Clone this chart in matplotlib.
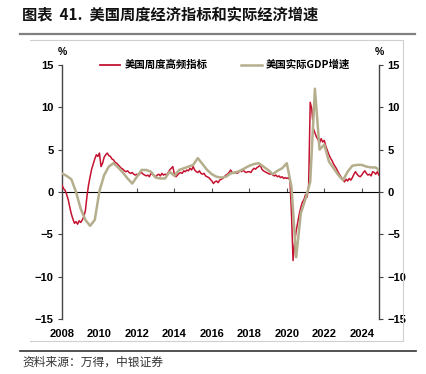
import matplotlib
matplotlib.use('Agg')
import matplotlib.pyplot as plt
from matplotlib.lines import Line2D
import numpy as np

# 美国周度经济指数（按月读取），起点2008年1月
wei = [
    0.8, 0.4, 0.2, -0.3, -0.9, -1.8, -2.6, -3.2, -3.7, -3.5, -3.8, -3.4,   # 2008
    -3.6, -3.3, -2.9, -2.2, -0.5, 0.8, 1.8, 2.7, 3.3, 3.9, 4.4, 4.2,       # 2009
    4.6, 3.0, 3.4, 4.1, 4.4, 4.6, 4.3, 4.2, 3.9, 3.8, 3.5, 3.4,            # 2010
    3.2, 3.0, 2.8, 2.7, 2.5, 2.4, 2.5, 2.3, 2.2, 2.3, 2.1, 2.0,            # 2011
    2.1, 2.0, 2.2, 2.3, 2.1, 2.0, 1.9, 2.0, 1.8, 2.2, 2.1, 1.9,            # 2012
    1.8, 2.0, 2.1, 1.9, 2.2, 2.0, 2.1, 2.0, 2.3, 2.6, 2.8, 3.0,            # 2013
    2.1, 1.8, 2.0, 2.2, 2.3, 2.2, 2.5, 2.4, 2.6, 2.5, 2.8, 2.6,            # 2014
    3.0, 2.6, 2.4, 2.3, 2.5, 2.2, 2.1, 2.2, 1.9, 1.8, 1.7, 1.5,            # 2015
    1.3, 1.0, 1.2, 1.3, 1.1, 1.4, 1.5, 1.6, 1.8, 2.0, 2.1, 2.3,            # 2016
    2.6, 2.3, 2.2, 2.4, 2.2, 2.3, 2.5, 2.4, 2.6, 2.4, 2.3, 2.4,            # 2017
    2.4, 2.3, 2.6, 2.8, 2.7, 2.9, 3.0, 3.2, 2.7, 2.5, 2.4, 2.3,            # 2018
    2.2, 2.1, 2.2, 2.0, 1.9, 2.0, 1.8, 1.9, 1.7, 1.8, 1.6, 1.7,            # 2019
    1.6, 1.7, 1.4, -2.5, -8.1, -6.0, -4.6, -3.6, -2.6, -1.8, -1.2, -0.9,   # 2020
    -0.3, -0.6, 0.8, 10.6, 9.8, 7.5, 7.0, 6.5, 6.2, 5.8, 6.3, 5.9,         # 2021
    6.1, 5.4, 4.9, 4.4, 4.0, 3.7, 3.3, 3.0, 2.7, 2.3, 2.0, 1.7,            # 2022
    1.4, 1.2, 1.5, 1.3, 1.6, 1.4, 1.7, 2.1, 2.4, 2.1, 1.9, 1.8,            # 2023
    2.0, 2.3, 2.5, 2.2, 2.0, 2.1, 1.9, 2.4, 2.3, 2.1, 2.4, 2.0,            # 2024
]

# 美国实际GDP同比（季度），起点2008年初
gdp = [
    2.2, 1.9, 1.5, 0.0,
    -2.0, -3.3, -4.0, -3.3,
    0.1, 2.0, 3.0, 3.4,
    2.9, 2.3, 1.6, 1.0,
    1.8, 2.6, 2.6, 2.4,
    1.7, 1.6, 1.6, 2.4,
    1.9, 2.6, 2.8, 3.0,
    3.2, 4.0, 3.3, 2.6,
    2.1, 1.8, 1.7, 1.8,
    2.2, 2.3, 2.5, 2.8,
    3.1, 3.3, 3.4, 3.0,
    2.6, 2.1, 2.5, 2.8,
    3.4, 0.6, -7.7, -2.5,
    -0.8, 1.2, 12.2, 5.0,
    5.6, 3.6, 2.8, 2.0,
    1.4, 2.4, 3.1, 3.2,
    3.2, 3.0, 2.9, 2.9,
    2.4,
]

years = [2008, 2010, 2012, 2014, 2016, 2018, 2020, 2022, 2024]
yticks = [-15, -10, -5, 0, 5, 10, 15]
label_wei = '美国周度高频指标'
label_gdp = '美国实际GDP增速'
title = '图表  41.  美国周度经济指标和实际经济增速'
source = '资料来源：万得，中银证券'

t_wei = 2008 + np.arange(len(wei)) / 12
t_gdp = 2008 + np.arange(len(gdp)) * 0.25

red = '#C4122F'
olive = '#B5AE8C'
num_font = ['Liberation Sans Narrow', 'Liberation Sans', 'DejaVu Sans']
cjk = ['Noto Sans CJK SC', 'DejaVu Sans']

plt.rcParams['font.family'] = num_font

fig = plt.figure(figsize=(4.26, 3.74), dpi=100)
ax = fig.add_axes([0.1455, 0.1471, 0.7441, 0.6791])

ax.plot(t_wei, wei, color=red, lw=1.1, zorder=3)
ax.plot(t_gdp, gdp, color=olive, lw=1.8, zorder=4)

ax.set_xlim(2008, 2024.92)
ax.set_ylim(-15, 15)
ax.set_yticks(yticks)
ax.set_xticks(years)

for s in ['top', 'bottom']:
    ax.spines[s].set_visible(False)
for s in ['left', 'right']:
    ax.spines[s].set_color('#444444')
    ax.spines[s].set_linewidth(1.0)

ax.tick_params(axis='y', left=True, right=True, labelleft=True, labelright=True,
               direction='out', length=3, width=0.8, color='#444444',
               labelsize=8, pad=3)
ax.tick_params(axis='x', length=0, labelsize=8, pad=7)
for lab in ax.get_xticklabels() + ax.get_yticklabels():
    lab.set_fontweight('bold')

# 零轴，刻度向下，不带标签
sec = ax.secondary_xaxis(0.5)
sec.set_xticks(years, labels=[''] * len(years))
sec.tick_params(axis='x', direction='out', length=3, width=0.8,
                color='#555555')
sec.spines['bottom'].set_color('#555555')
sec.spines['bottom'].set_linewidth(0.9)

ax.text(0.0, 1.03, '%', transform=ax.transAxes, ha='center', va='bottom',
        fontsize=7.5, fontweight='bold')
ax.text(1.0, 1.03, '%', transform=ax.transAxes, ha='center', va='bottom',
        fontsize=7.5, fontweight='bold')

handles = [Line2D([], [], color=red, lw=1.3), Line2D([], [], color=olive, lw=1.8)]
leg = ax.legend(handles, [label_wei, label_gdp], ncol=2, frameon=False,
                loc='center', bbox_to_anchor=(0.528, 0.826),
                bbox_transform=fig.transFigure, handlelength=2.0,
                handletextpad=0.4, columnspacing=3.2,
                prop={'family': cjk, 'size': 7.5, 'weight': 'bold'})

# 标题与分隔线
fig.text(0.052, 0.958, title, fontsize=11, fontweight='bold', family=cjk,
         ha='left', va='center', color='#111111')
fig.add_artist(Line2D([20 / 426, 415 / 426], [1 - 34 / 374, 1 - 34 / 374],
                      color='#808080', lw=1.6))
# 图框
fx0, fx1 = 30 / 426, 403 / 426
fy0, fy1 = 1 - 341 / 374, 1 - 40 / 374
fig.add_artist(Line2D([fx0, fx1, fx1, fx0], [fy1, fy1, fy0, fy0],
                      color='#d0d0d0', lw=0.8))
fig.add_artist(Line2D([20 / 426, 416 / 426], [1 - 351 / 374, 1 - 351 / 374],
                      color='#333333', lw=1.2))
fig.text(0.052, 1 - 362 / 374, source, fontsize=8.5, family=cjk,
         style='italic', ha='left', va='center', color='#333333')

fig.savefig('out.png', dpi=100)
